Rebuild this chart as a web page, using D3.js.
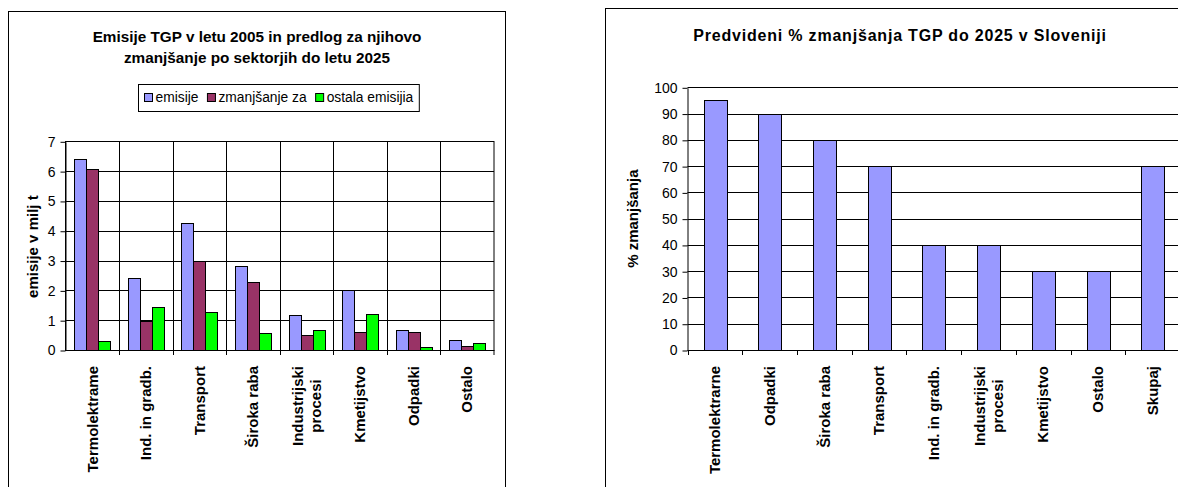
<!DOCTYPE html>
<html>
<head>
<meta charset="utf-8">
<script src="https://cdn.jsdelivr.net/npm/d3@7"></script>
<style>
  body { margin: 0; background: #fff; }
  text { font-family: "Liberation Sans", Arial, sans-serif; fill: #000; }
</style>
</head>
<body>
<svg id="chart" width="1178" height="487"></svg>
<script>
// Left chart data: emissions per sector (milj t)
var sectors = ["Termolektrame", "Ind. in gradb.", "Transport", "Široka raba",
  "Industrijski\nprocesi", "Kmetijstvo", "Odpadki", "Ostalo"];
var seriesNames = ["emisije", "zmanjšanje za", "ostala emisijia"];
var emisije = [6.4, 2.4, 4.25, 2.83, 1.16, 2.0, 0.68, 0.32];
var zmanjsanje = [6.07, 0.97, 3.0, 2.28, 0.49, 0.6, 0.6, 0.12];
var ostala = [0.31, 1.44, 1.29, 0.57, 0.68, 1.2, 0.09, 0.24];
var emisijeTicks = [0, 1, 2, 3, 4, 5, 6, 7];

// Right chart data: predicted % reduction
var pctSectors = ["Termolektrarne", "Odpadki", "Široka raba", "Transport", "Ind. in gradb.",
  "Industrijski\nprocesi", "Kmetijstvo", "Ostalo", "Skupaj"];
var pctValues = [95, 90, 80, 70, 40, 40, 30, 30, 70];
var pctTicks = [0, 10, 20, 30, 40, 50, 60, 70, 80, 90, 100];

var colors = ["#9999FF", "#993366", "#00FF00"];

var svg = d3.select("#chart");

// Rotated category labels, multi-line ones centred on the longest line
function catLabels(g, scale, cats, top) {
  var lab = g.selectAll(".cat")
    .data(cats)
    .enter().append("g")
    .attr("class", "cat")
    .attr("transform", function(d) {
      return "translate(" + (scale(d) + scale.bandwidth() / 2) + "," + top + ")rotate(-90)";
    });
  lab.each(function(d) {
    var el = d3.select(this),
        lines = d.split("\n"),
        n = lines.length;
    var t = el.selectAll("text")
      .data(lines)
      .enter().append("text")
      .attr("font-size", 15)
      .attr("font-weight", "bold")
      .attr("text-anchor", "middle")
      .attr("dy", function(l, i) { return ((i - (n - 1) / 2) * 1.2 + 0.35) + "em"; })
      .text(function(l) { return l; });
    var L = d3.max(t.nodes(), function(nd) { return nd.getComputedTextLength(); });
    t.attr("x", -L / 2);
  });
}

function styleAxis(g) {
  g.selectAll("text").attr("font-size", 14).attr("font-family", null);
  g.selectAll("line,path").attr("stroke", "#000");
}

// ---------------- left chart ----------------
var left = svg.append("g");

left.append("rect")
  .attr("x", 8.5).attr("y", 11.5)
  .attr("width", 497).attr("height", 490)
  .attr("fill", "#fff").attr("stroke", "#000");

var x1 = d3.scaleBand().domain(sectors).range([65.5, 494]);
var xs = d3.scaleBand().domain(seriesNames)
  .range([0, x1.bandwidth()])
  .paddingInner(0).paddingOuter(0.73);
var y1 = d3.scaleLinear().domain([0, 7]).range([350, 141.3]);

// Title
left.append("text")
  .attr("x", 257).attr("y", 41.5)
  .attr("text-anchor", "middle")
  .attr("font-size", 15.3).attr("font-weight", "bold")
  .text("Emisije TGP v letu 2005 in predlog za njihovo");
left.append("text")
  .attr("x", 257).attr("y", 63.3)
  .attr("text-anchor", "middle")
  .attr("font-size", 15.3).attr("font-weight", "bold")
  .text("zmanjšanje po sektorjih do letu 2025");

// Legend
var leg = left.append("g");
var legBox = leg.append("rect")
  .attr("y", 84.5).attr("height", 27)
  .attr("fill", "#fff").attr("stroke", "#000");
var lx = 144;
seriesNames.forEach(function(s, i) {
  leg.append("rect")
    .attr("x", lx + 0.5).attr("y", 93.5)
    .attr("width", 8).attr("height", 8)
    .attr("fill", colors[i]).attr("stroke", "#000");
  var t = leg.append("text")
    .attr("x", lx + 11.5).attr("y", 102)
    .attr("font-size", 13.8)
    .text(s);
  lx = lx + 11.5 + t.node().getComputedTextLength() + 8.5;
});
legBox.attr("x", 138.5).attr("width", lx - 8.5 + 6 - 138.5);

// Gridlines
left.selectAll(".hgrid")
  .data(emisijeTicks)
  .enter().append("line")
  .attr("x1", x1.range()[0]).attr("x2", x1.range()[1])
  .attr("y1", function(d) { return Math.round(y1(d)) + 0.5; })
  .attr("y2", function(d) { return Math.round(y1(d)) + 0.5; })
  .attr("stroke", "#000");
left.selectAll(".vgrid")
  .data(sectors.slice(1))
  .enter().append("line")
  .attr("x1", function(d) { return Math.round(x1(d)) + 0.5; })
  .attr("x2", function(d) { return Math.round(x1(d)) + 0.5; })
  .attr("y1", y1(7)).attr("y2", y1(0) + 5)
  .attr("stroke", "#000");
left.append("rect")
  .attr("x", x1.range()[0]).attr("y", Math.round(y1(7)) + 0.5)
  .attr("width", x1.range()[1] - x1.range()[0])
  .attr("height", Math.round(y1(0)) - Math.round(y1(7)))
  .attr("fill", "none").attr("stroke", "#000");
left.append("line")
  .attr("x1", x1.range()[1]).attr("x2", x1.range()[1])
  .attr("y1", y1(0)).attr("y2", y1(0) + 5)
  .attr("stroke", "#000");

// Bars
[emisije, zmanjsanje, ostala].forEach(function(vals, si) {
  left.selectAll(".bar" + si)
    .data(vals)
    .enter().append("rect")
    .attr("class", "bar" + si)
    .attr("x", function(d, i) { return Math.round(x1(sectors[i]) + xs(seriesNames[si])) + 0.5; })
    .attr("y", function(d) { return Math.round(y1(d)) + 0.5; })
    .attr("width", Math.round(xs.bandwidth()))
    .attr("height", function(d) { return Math.round(y1(0)) - Math.round(y1(d)); })
    .attr("fill", colors[si])
    .attr("stroke", "#000");
});

// Y axis
left.append("g")
  .attr("transform", "translate(" + x1.range()[0] + ",0.5)")
  .call(d3.axisLeft(y1).tickValues(emisijeTicks).tickFormat(d3.format("d"))
    .tickSize(5).tickSizeOuter(0).tickPadding(5))
  .call(styleAxis);

left.append("text")
  .attr("transform", "translate(33," + ((y1(0) + y1(7)) / 2 + 1) + ")rotate(-90)")
  .attr("text-anchor", "middle")
  .attr("dy", "0.35em")
  .attr("font-size", 15).attr("font-weight", "bold")
  .text("emisije v milj t");

catLabels(left, x1, sectors, 366);

// ---------------- right chart ----------------
var right = svg.append("g");

right.append("rect")
  .attr("x", 605.5).attr("y", 8.5)
  .attr("width", 590).attr("height", 490)
  .attr("fill", "#fff").attr("stroke", "#000");

var x2 = d3.scaleBand().domain(pctSectors).range([687.5, 1180]);
var y2 = d3.scaleLinear().domain([0, 100]).range([350, 87.3]);

right.append("text")
  .attr("x", 900).attr("y", 41)
  .attr("text-anchor", "middle")
  .attr("font-size", 16).attr("font-weight", "bold")
  .attr("letter-spacing", 0.8)
  .text("Predvideni % zmanjšanja TGP do 2025 v Sloveniji");

right.selectAll(".hgrid")
  .data(pctTicks)
  .enter().append("line")
  .attr("x1", x2.range()[0]).attr("x2", x2.range()[1])
  .attr("y1", function(d) { return Math.round(y2(d)) + 0.5; })
  .attr("y2", function(d) { return Math.round(y2(d)) + 0.5; })
  .attr("stroke", "#000");

// x ticks at category boundaries
right.selectAll(".xtick")
  .data(pctSectors)
  .enter().append("line")
  .attr("x1", function(d) { return Math.round(x2(d)) + 0.5; })
  .attr("x2", function(d) { return Math.round(x2(d)) + 0.5; })
  .attr("y1", y2(0)).attr("y2", y2(0) + 5)
  .attr("stroke", "#000");

var bw = x2.bandwidth() * 0.415;
right.selectAll(".bar")
  .data(pctValues)
  .enter().append("rect")
  .attr("class", "bar")
  .attr("x", function(d, i) { return Math.round(x2(pctSectors[i]) + (x2.bandwidth() - bw) / 2) + 0.5; })
  .attr("y", function(d) { return Math.round(y2(d)) + 0.5; })
  .attr("width", Math.round(bw))
  .attr("height", function(d) { return Math.round(y2(0)) - Math.round(y2(d)); })
  .attr("fill", colors[0])
  .attr("stroke", "#000");

right.append("g")
  .attr("transform", "translate(" + x2.range()[0] + ",0.5)")
  .call(d3.axisLeft(y2).tickValues(pctTicks).tickFormat(d3.format("d"))
    .tickSize(5).tickSizeOuter(0).tickPadding(5))
  .call(styleAxis);

right.append("text")
  .attr("transform", "translate(633," + ((y2(0) + y2(100)) / 2) + ")rotate(-90)")
  .attr("text-anchor", "middle")
  .attr("dy", "0.35em")
  .attr("font-size", 15).attr("font-weight", "bold")
  .text("% zmanjšanja");

catLabels(right, x2, pctSectors, 366);
</script>
</body>
</html>
